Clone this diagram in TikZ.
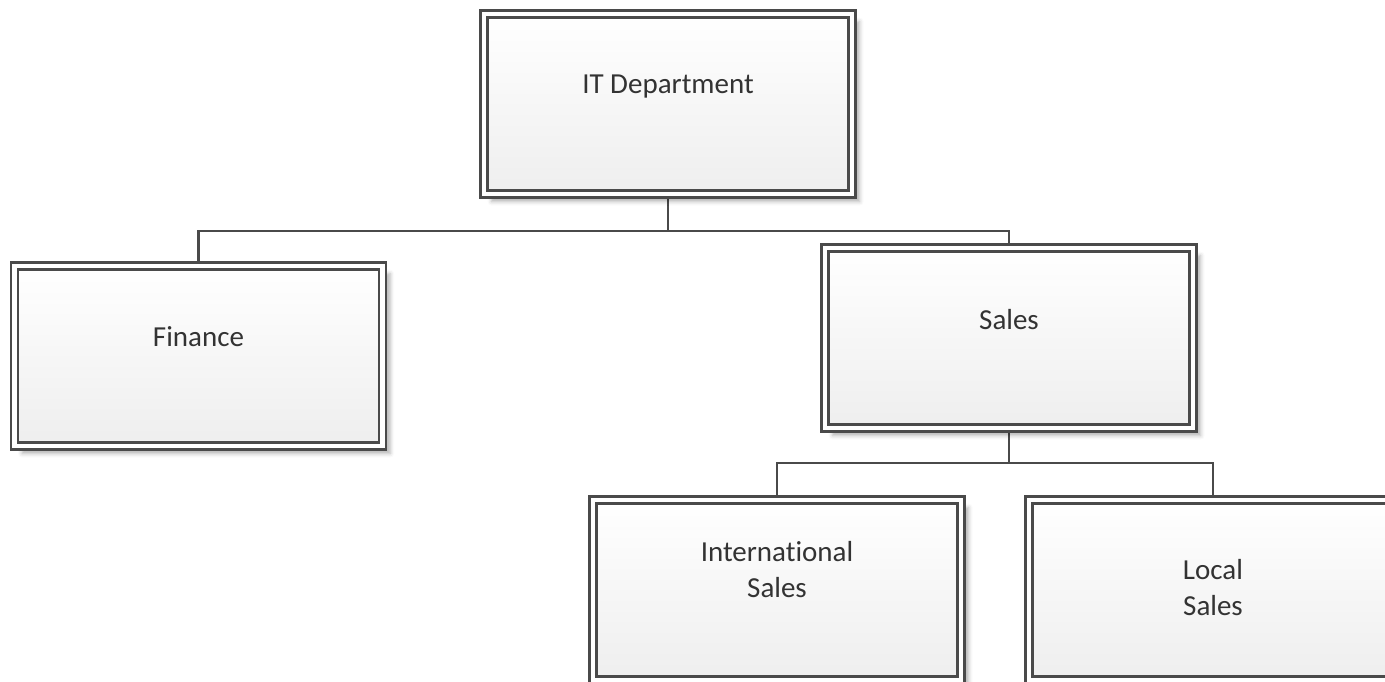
\documentclass[tikz,border=0pt]{standalone}
\usepackage{fontspec}
\setmainfont{Carlito}[Ligatures=NoCommon]
\usetikzlibrary{shadows.blur,backgrounds}

\definecolor{edge}{HTML}{4A4A4A}
\definecolor{ink}{HTML}{333333}
\definecolor{lowfill}{HTML}{EEEEEE}

\tikzset{
  unitbox/.style={
    rectangle, draw=edge, line width=1.15pt,
    double=white, double distance=2.3pt,
    top color=white, bottom color=lowfill,
    minimum width=184pt, minimum height=90pt,
    inner sep=0pt,
    blur shadow={shadow xshift=3.8pt, shadow yshift=-3.8pt,
                 shadow blur radius=2pt, shadow opacity=30},
  },
  boxtext/.style={text=ink, font=\fontsize{14.5}{18}\selectfont, align=center},
  link/.style={draw=edge, line width=1.15pt},
}

\begin{document}
\begin{tikzpicture}[x=0.5pt,y=-0.5pt]
  \useasboundingbox (0,0) rectangle (1385,681);
  \clip (0,0) rectangle (1385,681);

  % organisation units
  \node[unitbox, label={[boxtext, yshift=8.5pt]center:IT Department}] (it) at (668,104) {};
  \node[unitbox, label={[boxtext, yshift=9.5pt]center:Finance}] (fin) at (198.5,356) {};
  \node[unitbox, label={[boxtext, yshift=9pt]center:Sales}] (sales) at (1009,338) {};
  \node[unitbox, label={[boxtext, yshift=10pt]center:International\\Sales}] (intl) at (777,590) {};
  \node[unitbox, label={[boxtext, yshift=1pt]center:Local\\Sales}] (local) at (1213,590) {};

  % reporting lines
  \coordinate (bus1) at (668,231);
  \coordinate (bus2) at (1009,463);
  \begin{scope}[on background layer]
    \draw[link] (it.south) -- (bus1) -| (fin.north);
    \draw[link] (bus1) -| (sales.north);
    \draw[link] (sales.south) -- (bus2) -| (intl.north);
    \draw[link] (bus2) -| (local.north);
  \end{scope}
\end{tikzpicture}
\end{document}
